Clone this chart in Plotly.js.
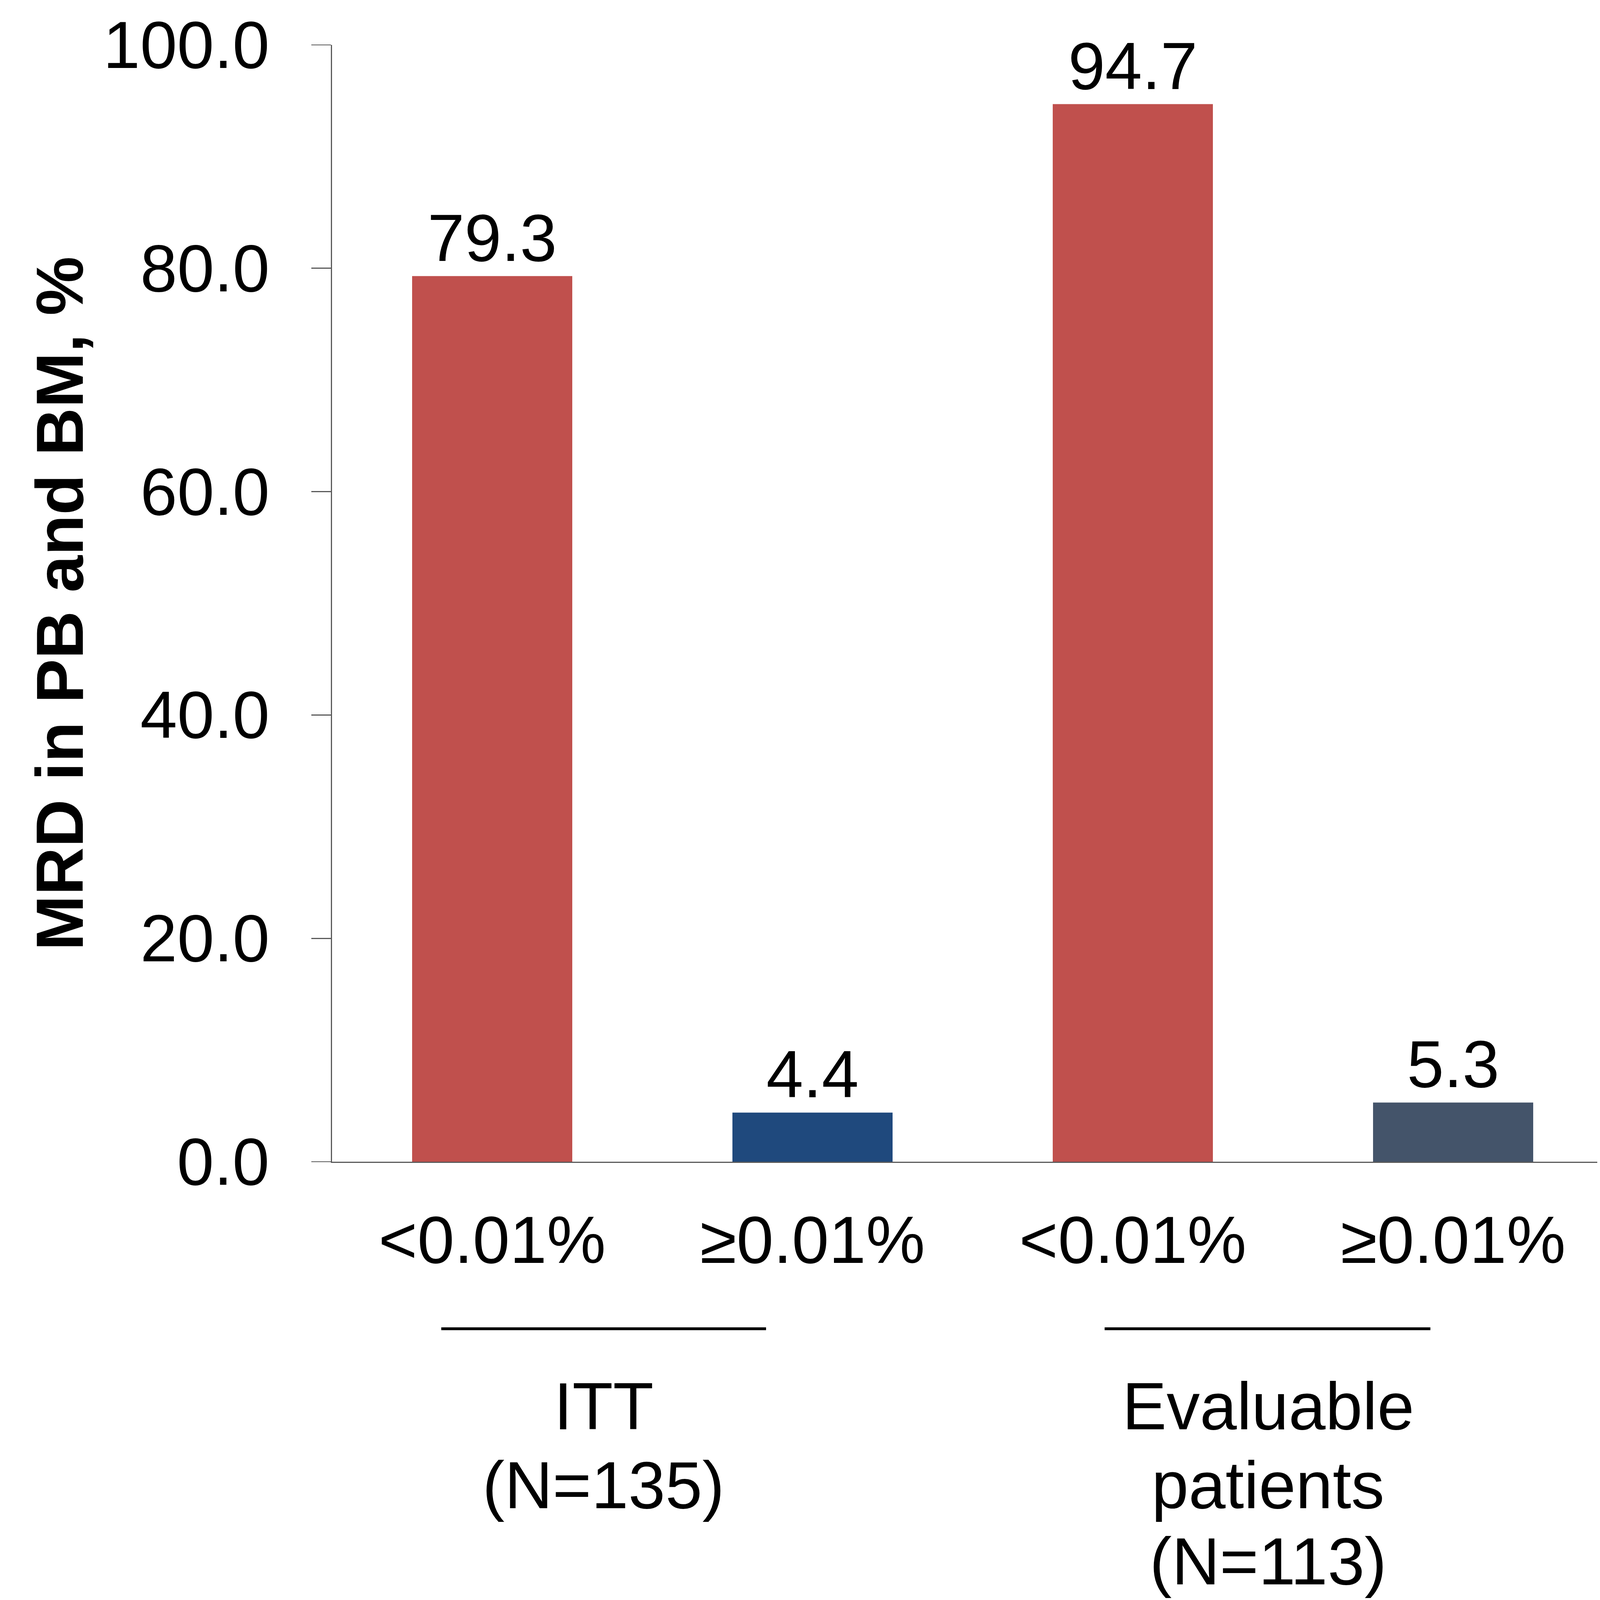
<!DOCTYPE html>
<html>
<head>
<meta charset="utf-8">
<script src="https://cdn.plot.ly/plotly-3.0.1.min.js"></script>
<style>html,body{margin:0;padding:0;background:#fff;overflow:hidden;}#chart{position:absolute;left:0;top:0;}</style>
</head>
<body>
<div id="chart"></div>
<script>
var positions = [0, 1, 2, 3];
var tickLabels = ["<0.01%", "\u22650.01%", "<0.01%", "\u22650.01%"];
var values = [79.3, 4.4, 94.7, 5.3];
var barColors = ["#C0504D", "#1F497D", "#C0504D", "#44546A"];
var yTickVals = [0, 20, 40, 60, 80, 100];
var yTickLabels = ["0.0", "20.0", "40.0", "60.0", "80.0", "100.0"];
var groupLabels = [["ITT", "(N=135)"], ["Evaluable", "patients", "(N=113)"]];
var groupCenters = [0.348, 2.422];
var groupSpans = [[-0.159, 0.855], [1.912, 2.929]];
var yTitle = "MRD in PB and BM, %";

var W = window.innerWidth || 4438;
var H = window.innerHeight || 4711;
var sx = W / 4438, sy = H / 4711, sf = Math.sqrt(sx * sy);
var FONT = "Arial, 'Liberation Sans', sans-serif";
var FS = 190 * sf;

document.getElementById("chart").style.width = W + "px";
document.getElementById("chart").style.height = H + "px";

var trace = {
  type: "bar",
  x: positions,
  y: values,
  width: 0.5,
  marker: {color: barColors, line: {width: 0}},
  text: values.map(function(v){return v.toFixed(1);}),
  textposition: "outside",
  cliponaxis: false,
  textfont: {family: FONT, size: FS, color: "#000"},
  hoverinfo: "none"
};

var annotations = [];
// y tick labels
yTickVals.forEach(function(v, i){
  annotations.push({
    text: yTickLabels[i], xref: "paper", yref: "y", x: -0.0487, y: v,
    xanchor: "right", yanchor: "middle", showarrow: false,
    font: {family: FONT, size: FS, color: "#000"}
  });
});
// x tick labels
positions.forEach(function(p, i){
  annotations.push({
    text: tickLabels[i], xref: "x", yref: "paper", x: p, y: -0.0699,
    xanchor: "center", yanchor: "middle", showarrow: false,
    font: {family: FONT, size: FS, color: "#000"}
  });
});
// group labels
var lineYs = [-0.219, -0.2895, -0.3577];
groupLabels.forEach(function(lines, gi){
  lines.forEach(function(t, li){
    annotations.push({
      text: t, xref: "x", yref: "paper", x: groupCenters[gi], y: lineYs[li],
      xanchor: "center", yanchor: "middle", showarrow: false,
      font: {family: FONT, size: FS, color: "#000"}
    });
  });
});
annotations.push({
  text: "<b>" + yTitle + "</b>", xref: "paper", yref: "paper", x: -0.2154, y: 0.5,
  xanchor: "center", yanchor: "middle", textangle: -90, showarrow: false,
  font: {family: FONT, size: FS, color: "#000"}
});

var shapes = groupSpans.map(function(s){
  return {type: "line", xref: "x", yref: "paper", x0: s[0], x1: s[1], y0: -0.1496, y1: -0.1496,
    line: {color: "#000", width: 8 * sf}};
});

var layout = {
  width: W, height: H,
  margin: {l: 921 * sx, r: 8 * sx, t: 132 * sy, b: 1291 * sy, pad: 0},
  paper_bgcolor: "#fff", plot_bgcolor: "#fff",
  showlegend: false,
  font: {family: FONT, size: FS, color: "#000"},
  xaxis: {
    range: [-0.5, 3.45], tickvals: positions, showticklabels: false,
    showline: true, linecolor: "#595959", linewidth: 3 * sf, ticks: "", showgrid: false, zeroline: false
  },
  yaxis: {
    range: [0, 100], tickvals: yTickVals, showticklabels: false,
    showline: true, linecolor: "#595959", linewidth: 3 * sf, ticks: "outside", ticklen: 55 * sx, tickwidth: 3 * sf, tickcolor: "#595959",
    showgrid: false, zeroline: false
  },
  annotations: annotations,
  shapes: shapes
};

Plotly.newPlot("chart", [trace], layout, {displayModeBar: false, staticPlot: true});
</script>
</body>
</html>
